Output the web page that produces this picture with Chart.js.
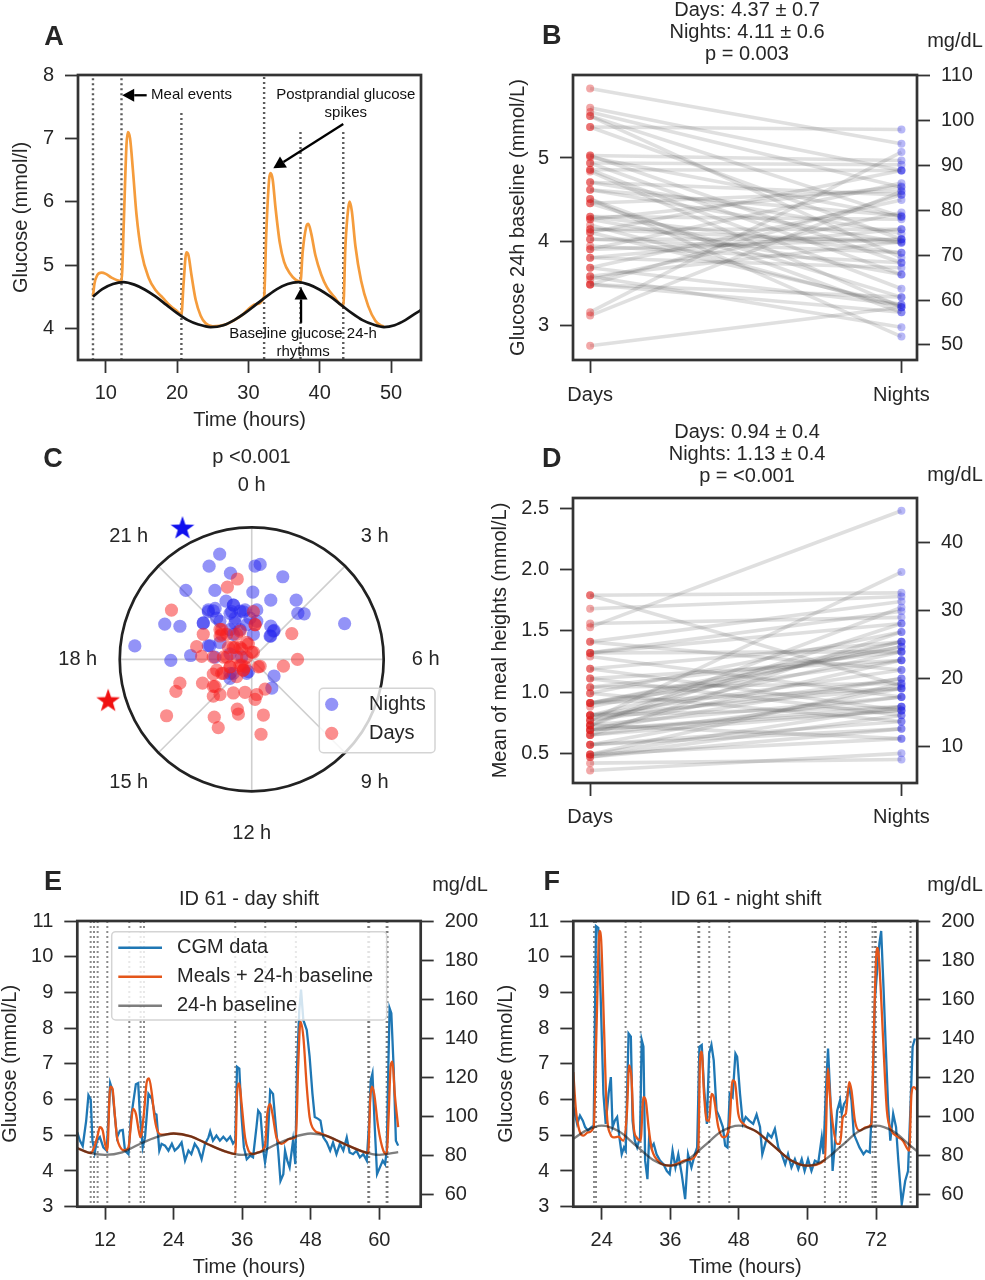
<!DOCTYPE html>
<html><head><meta charset="utf-8">
<script src="https://cdn.jsdelivr.net/npm/chart.js@4.4.1/dist/chart.umd.min.js"></script>
<style>html,body{margin:0;padding:0;background:#fff;}body{width:985px;height:1280px;position:relative;overflow:hidden;}canvas{position:absolute;}</style>
</head><body>
<script>
// ================= DATA =================
// ---- Panel A (schematic) ----
const ticksA_x = [10,20,30,40,50];
const ticksA_y = [4,5,6,7,8];
const mealTimesA = [8.2,12.2,20.6,32.2,37.3,43.3];
const mealTopsA  = [7.95,7.95,7.4,7.97,7.1,7.1];
const postprandialA = [[8.2,4.5],[8.4,4.7],[8.8,4.84],[9.4,4.88],[10.0,4.86],[10.8,4.8],[11.6,4.76],[12.2,4.75],[12.5,5.6],[12.9,6.9],[13.1,7.1],[13.4,7.0],[13.8,6.5],[14.3,5.8],[15.0,5.2],[16.0,4.8],[17.0,4.6],[18.0,4.48],[19.0,4.36],[20.0,4.27],[20.6,4.22],[20.9,4.7],[21.3,5.2],[21.6,5.15],[22.0,4.85],[22.6,4.45],[23.3,4.2],[24.0,4.08],[25.0,4.03],[27,4.07],[29,4.2],[31,4.38],[32.2,4.5],[32.5,5.5],[32.9,6.35],[33.1,6.45],[33.4,6.35],[33.8,5.9],[34.4,5.35],[35.0,5.05],[35.8,4.87],[36.6,4.77],[37.3,4.74],[37.6,5.2],[38.1,5.6],[38.4,5.65],[38.8,5.5],[39.4,5.15],[40.2,4.85],[41.0,4.65],[42.0,4.5],[43.3,4.35],[43.6,5.3],[44.0,5.9],[44.2,6.0],[44.5,5.85],[45.0,5.3],[45.8,4.75],[46.8,4.35],[47.8,4.12],[48.5,4.05],[49.0,4.03]];
const baselineA = [[8.2,4.5],[9.5,4.62],[11,4.7],[12.5,4.73],[14,4.69],[15.5,4.61],[17,4.5],[18.5,4.37],[20,4.24],[21.5,4.13],[23,4.06],[24.7,4.02],[26.5,4.05],[28,4.13],[29.5,4.24],[31,4.37],[32.5,4.5],[34,4.62],[35.5,4.7],[37,4.73],[38.5,4.69],[40,4.61],[41.5,4.5],[43,4.37],[44.5,4.24],[46,4.13],[47.5,4.06],[49,4.02],[50.5,4.05],[52,4.13],[53.5,4.24],[54.2,4.29]];

// ---- Panel B (24h baseline) ----
const groupLabels = ['Days','Nights'];
const baselineDays   = [5.83,5.60,5.55,5.50,5.37,5.37,5.03,5.01,4.94,4.86,4.84,4.71,4.62,4.51,4.46,4.30,4.27,4.15,4.11,4.03,3.91,3.81,3.69,3.59,3.55,3.49,3.16,3.12,2.76,5.50,4.94,4.86,5.03,4.71,4.62,4.46,4.30,4.15,4.03,3.91,3.81,3.69,3.59,3.49,3.49,4.51,4.11,3.95,4.20,4.27];
const baselineNights = [5.17,4.85,4.65,4.30,5.34,4.03,4.97,4.30,3.61,4.85,3.22,4.56,3.99,3.16,4.61,3.87,4.66,4.15,3.25,4.03,4.70,3.69,4.50,2.98,4.35,3.34,5.07,4.60,3.22,3.81,4.92,3.44,3.75,4.10,4.31,3.34,4.27,3.99,3.87,4.03,4.15,3.25,4.00,3.16,4.56,2.87,4.85,3.75,3.22,3.61];
const ticksB_left = [3,4,5];
const ticksB_right = [50,60,70,80,90,100,110];
const statsB = ['Days: 4.37 \u00b1 0.7','Nights: 4.11 \u00b1 0.6','p = 0.003'];

// ---- Panel C (acrophase / amplitude) ----
const nightsHour = [22.9,22.4,23.1,0.13,0.33,1.34,21.14,22.17,0.06,1.16,2.41,2.95,3.22,4.56,22.45,22.79,21.3,21.49,22.52,23.12,23.5,0.38,19.51,19.69,20.51,21.39,22.39,23.47,0.49,1.95,2.47,2.56,18.45,19.19,19.91,17.95,18.25,18.24,18.98,18.87,13.28,15.47,15.22,8.49,9.71,21.36,21.65,0.25,21.23,21.67,22.36,22.79,23.36,22.57,23.85,2.45,2.49,15.77,12.98,19.24,20.51,21.63,22.61];
const nightsAmp  = [0.855,0.794,0.69,0.727,0.742,0.685,0.733,0.605,0.524,0.483,0.571,0.501,0.533,0.757,0.493,0.445,0.506,0.476,0.402,0.387,0.388,0.387,0.714,0.602,0.464,0.382,0.311,0.274,0.299,0.296,0.282,0.232,0.892,0.346,0.274,0.613,0.464,0.279,0.17,0.078,0.115,0.177,0.221,0.213,0.27,0.417,0.285,0.195,0.496,0.484,0.394,0.444,0.376,0.345,0.321,0.274,0.229,0.197,0.099,0.333,0.463,0.239,0.249];
const daysHour = [23.34,22.79,20.15,0.13,0.36,20.94,20.71,19.87,21.05,22.54,18.89,20.26,21.11,23.2,3.77,18.23,18.23,18.35,0.85,8.67,6.83,6.0,16.57,16.3,16.19,14.73,16.75,16.44,16.24,15.61,15.03,14.75,13.87,12.75,11.47,11.69,10.42,15.72,14.15,13.05,12.89,11.23,13.7,11.54,14.47,16.7,21.04,20.48,21.98,22.93,19.86,20.43,21.12,18.31,18.59,19.67,16.7,15.93,16.84,16.21,14.69,14.47,0.0,0.36,15.53,9.27];
const daysAmp  = [0.635,0.592,0.719,0.372,0.272,0.335,0.3,0.416,0.272,0.237,0.429,0.168,0.129,0.122,0.364,0.38,0.292,0.191,0.057,0.083,0.246,0.347,0.313,0.252,0.1,0.077,0.575,0.626,0.416,0.359,0.408,0.364,0.296,0.261,0.276,0.312,0.252,0.78,0.532,0.402,0.437,0.442,0.589,0.587,0.105,0.175,0.325,0.301,0.225,0.137,0.2,0.157,0.111,0.215,0.115,0.042,0.174,0.088,0.278,0.24,0.176,0.105,0.056,0.271,0.348,0.077];
const meanHour = [22.2,16.93];   // nights, days
const meanAmp  = [1.156,1.132];
const clockHours = [0,3,6,9,12,15,18,21];
const statsC = 'p <0.001';

// ---- Panel D (meal heights) ----
const mealDays   = [1.79,1.79,1.68,1.53,1.56,1.41,1.32,1.29,1.19,1.11,0.99,0.91,0.81,0.77,0.73,0.69,0.65,0.57,0.49,0.47,0.42,0.36,1.32,1.11,1.04,0.99,0.91,0.91,0.81,0.77,0.73,0.73,0.69,0.65,0.57,0.49,0.47,1.19,1.41,0.88,0.81,0.69,0.73,0.77,0.65,0.91,1.04,0.69,0.81,0.49,1.32,0.57];
const mealNights = [1.05,1.81,1.78,2.48,1.61,1.74,1.33,0.96,1.41,1.26,1.49,1.37,1.18,1.98,1.56,1.11,0.85,1.03,0.88,0.70,0.45,0.50,1.66,0.81,1.07,0.76,1.03,1.41,0.88,1.33,0.96,0.62,1.26,1.49,0.76,1.07,0.81,0.85,1.18,1.37,1.03,0.88,1.69,1.11,0.96,1.26,1.33,0.85,1.41,0.62,1.56,0.70];
const ticksD_left = [0.5,1.0,1.5,2.0,2.5];
const ticksD_right = [10,20,30,40];
const statsD = ['Days: 0.94 \u00b1 0.4','Nights: 1.13 \u00b1 0.4','p = <0.001'];

// ---- Panels E/F (ID 61) ----
const ticksEF_y = [3,4,5,6,7,8,9,10,11];
const ticksEF_right = [60,80,100,120,140,160,180,200];
const ticksE_x = [12,24,36,48,60];
const ticksF_x = [24,36,48,60,72];
const seriesNames = ['CGM data','Meals + 24-h baseline','24-h baseline'];
const mealsE = [9.49,10.07,10.71,12.4,16.25,18.23,18.82,34.79,40.04,45.4,58.05,58.23,61.27,61.44];
const cgmE = [[7.15,5.08],[7.6,4.85],[8.1,4.7],[8.7,5.4],[9.1,6.12],[9.5,6.0],[9.8,4.85],[10.2,4.52],[10.6,4.85],[11.1,4.95],[11.7,4.66],[12.3,4.57],[12.9,6.46],[13.3,6.26],[13.8,5.41],[14.1,4.94],[14.6,5.13],[15.1,5.15],[15.5,4.57],[16.1,4.47],[16.5,5.41],[16.9,5.88],[17.4,6.43],[17.8,6.46],[18.1,5.6],[18.6,4.66],[19.0,4.94],[19.6,6.16],[20.2,6.02],[20.7,5.6],[21.0,5.58],[21.5,4.57],[21.9,4.76],[22.5,4.71],[23.1,4.57],[23.7,4.76],[24.2,4.57],[24.8,4.66],[25.4,4.8],[26.0,4.29],[26.6,4.57],[27.1,4.47],[27.7,4.76],[28.3,4.62],[28.9,4.33],[29.5,4.76],[30.1,4.94],[30.4,5.11],[30.9,4.85],[31.5,4.99],[32.1,4.85],[32.7,4.96],[33.3,4.85],[33.9,4.96],[34.4,4.77],[34.8,4.85],[35.1,6.92],[35.5,6.87],[35.9,5.51],[36.3,4.66],[36.8,4.33],[37.4,4.43],[37.9,4.38],[38.5,5.23],[38.8,5.69],[39.2,5.6],[39.7,4.57],[40.0,4.24],[40.4,4.66],[40.9,6.26],[41.4,6.16],[41.9,5.23],[42.3,4.57],[42.7,3.72],[43.2,3.91],[43.5,4.57],[43.9,4.29],[44.3,4.1],[44.9,4.85],[45.3,4.19],[45.6,6.92],[46.0,8.51],[46.3,9.08],[46.7,8.23],[47.3,7.95],[47.8,7.2],[48.3,6.16],[48.7,5.51],[49.3,5.46],[49.7,5.41],[50.2,4.94],[50.8,4.8],[51.4,4.57],[51.9,4.8],[52.5,4.47],[53.1,4.76],[53.7,4.57],[54.3,4.94],[54.8,4.52],[55.4,4.47],[56.0,4.57],[56.6,4.38],[57.2,4.47],[57.8,4.29],[58.2,5.32],[58.5,6.54],[58.8,6.73],[59.2,5.23],[59.6,3.91],[60.1,4.1],[60.6,4.29],[61.0,4.19],[61.3,4.57],[61.6,7.1],[61.8,8.56],[62.1,8.42],[62.5,6.92],[62.9,4.85],[63.3,4.71]];
const fitE = [[7.15,4.64],[8.5,4.55],[9.5,4.5],[10.2,4.71],[10.7,4.99],[11.1,5.23],[11.6,5.13],[12.0,4.76],[12.4,4.57],[12.9,6.36],[13.3,6.31],[13.7,5.6],[14.1,4.94],[14.7,4.66],[15.3,4.58],[16.1,4.66],[16.5,5.23],[16.9,5.74],[17.4,5.6],[17.9,5.13],[18.2,4.94],[18.8,5.6],[19.3,6.49],[19.7,6.59],[20.2,6.16],[20.7,5.46],[21.3,5.08],[21.9,5.02],[24,5.05],[27,4.97],[30,4.75],[33,4.55],[34.8,4.47],[35.1,6.16],[35.5,6.45],[35.9,5.88],[36.5,4.94],[37.1,4.57],[37.9,4.47],[38.8,4.52],[40.0,4.71],[40.4,5.6],[40.9,5.88],[41.3,5.6],[42.0,4.94],[42.9,4.76],[44.3,4.9],[45.4,4.94],[45.8,6.92],[46.2,8.18],[46.7,7.76],[47.3,6.36],[47.8,5.51],[48.7,5.13],[49.6,5.06],[51,4.97],[54,4.75],[57,4.55],[58.05,4.5],[58.4,5.98],[58.7,6.36],[59.1,6.16],[59.8,5.23],[60.7,4.57],[61.3,4.47],[61.6,5.41],[62.0,6.96],[62.3,7.06],[62.7,6.16],[63.3,5.23]];
const baseE = [[7.15,4.64],[9,4.52],[12,4.45],[15,4.52],[18,4.75],[21,4.95],[24,5.05],[27,4.97],[30,4.75],[33,4.55],[36,4.45],[39,4.52],[42,4.75],[45,4.95],[48,5.05],[51,4.97],[54,4.75],[57,4.55],[60,4.45],[63.3,4.53]];
const mealsF = [22.65,23.0,28.18,30.81,40.9,41.07,42.82,46.32,63.05,65.68,66.73,71.39,71.8,71.97,78.04];
const cgmF = [[19.03,5.79],[19.3,5.6],[19.7,5.32],[20.2,5.55],[20.7,5.41],[21.1,5.23],[21.6,5.13],[22.2,5.23],[22.6,5.27],[23.0,10.86],[23.4,10.81],[23.8,8.98],[24.3,6.16],[24.7,5.32],[25.2,6.16],[25.6,6.63],[25.9,5.23],[26.3,5.41],[26.7,5.51],[27.1,4.94],[27.5,4.47],[27.9,4.66],[28.2,4.57],[28.7,7.85],[29.1,7.76],[29.4,5.41],[29.8,4.85],[30.2,4.66],[30.7,4.94],[31.0,7.67],[31.3,7.48],[31.6,4.29],[32.0,3.77],[32.3,4.94],[32.7,4.66],[33.1,4.76],[33.6,4.47],[34.2,4.29],[34.8,4.19],[35.4,4.0],[35.9,3.91],[36.4,4.57],[36.9,4.1],[37.4,4.47],[38.0,3.91],[38.6,3.21],[39.1,4.47],[39.7,4.1],[40.3,4.47],[40.7,4.66],[41.1,7.48],[41.5,7.53],[41.9,6.35],[42.4,5.32],[42.8,7.29],[43.2,7.53],[43.6,7.1],[44.1,5.69],[44.6,5.51],[45.2,5.23],[45.6,4.71],[46.0,4.66],[46.4,6.16],[46.9,6.07],[47.4,7.29],[47.7,7.2],[48.2,6.16],[48.7,5.32],[49.2,5.51],[49.8,5.41],[50.5,5.32],[51.1,5.58],[51.7,5.23],[52.1,4.47],[52.6,4.76],[53.1,5.04],[53.7,4.94],[54.3,5.18],[54.9,4.66],[55.5,4.47],[56.1,4.19],[56.6,4.47],[57.2,4.1],[57.8,4.33],[58.4,4.05],[59.0,4.33],[59.5,4.0],[60.1,4.33],[60.7,4.0],[61.3,4.29],[61.9,4.24],[62.5,4.94],[62.8,4.47],[63.2,6.16],[63.6,7.43],[64.0,6.07],[64.4,4.0],[64.7,4.57],[65.2,5.69],[65.7,5.98],[66.0,5.6],[66.4,5.88],[66.8,5.98],[67.3,6.35],[67.7,5.98],[68.1,5.04],[68.6,4.85],[69.1,4.66],[69.8,4.47],[70.3,4.57],[70.9,4.52],[71.4,6.16],[71.8,8.79],[72.2,9.64],[72.6,10.39],[72.9,10.72],[73.3,9.17],[73.7,7.48],[74.1,5.88],[74.5,4.85],[75.0,5.6],[75.5,5.23],[75.9,4.29],[76.5,3.07],[77.1,3.72],[77.6,4.0],[78.0,5.69],[78.4,7.48],[78.8,7.71]];
const fitF = [[19.03,6.77],[19.5,5.69],[20.1,5.13],[20.8,4.99],[21.6,5.08],[22.6,5.23],[23.1,8.04],[23.6,10.72],[23.9,10.48],[24.4,8.04],[24.9,5.6],[25.5,5.04],[26.1,4.94],[26.9,4.96],[27.8,4.85],[28.4,5.6],[28.8,6.96],[29.2,6.63],[29.6,5.23],[30.1,4.94],[30.8,4.85],[31.3,6.07],[31.7,5.98],[32.2,5.23],[32.7,4.66],[33.6,4.33],[36,4.15],[39,4.31],[40.9,4.6],[41.2,7.1],[41.5,7.34],[41.9,6.16],[42.4,5.41],[42.8,5.41],[43.2,6.16],[43.6,6.07],[44.4,5.23],[45.3,4.94],[46.3,5.23],[46.9,6.54],[47.3,6.49],[47.9,5.6],[48.8,5.32],[51,5.11],[54,4.71],[57,4.31],[60,4.15],[63.05,4.31],[63.6,6.87],[63.9,6.16],[64.5,5.23],[65.2,4.76],[65.7,4.76],[66.2,5.51],[66.7,5.6],[67.3,6.49],[67.7,6.26],[68.3,5.41],[69.1,5.13],[70.3,5.23],[71.2,5.32],[71.5,7.1],[72.0,9.92],[72.3,10.25],[72.7,9.45],[73.3,7.48],[73.9,5.69],[74.7,5.13],[75.5,4.99],[76.7,4.85],[77.8,4.57],[78.2,6.16],[78.6,6.35],[79.2,6.26]];
const baseF = [[19.03,4.9],[21,5.11],[24,5.27],[27,5.11],[30,4.71],[33,4.31],[36,4.15],[39,4.31],[42,4.71],[45,5.11],[48,5.27],[51,5.11],[54,4.71],[57,4.31],[60,4.15],[63,4.31],[66,4.71],[69,5.11],[72,5.27],[75,5.11],[78,4.71],[79.2,4.55]];

// ================= STYLE / HELPERS =================
const FONT = "'Liberation Sans', Arial, Helvetica, sans-serif";
const TXT = '#262626';
Chart.defaults.font.family = FONT;
Chart.defaults.color = TXT;
Chart.defaults.animation = false;
Chart.defaults.plugins.legend.display = false;
Chart.defaults.plugins.tooltip.enabled = false;

const P = arr => arr.map(([x, y]) => ({x, y}));

function makeCanvas(left, top, w, h) {
  const c = document.createElement('canvas');
  c.width = w; c.height = h;
  c.style.left = left + 'px'; c.style.top = top + 'px';
  c.style.width = w + 'px'; c.style.height = h + 'px';
  document.body.appendChild(c);
  return c;
}

function axis(o) {
  const horiz = o.pos === 'bottom';
  return {
    type: 'linear', position: o.pos, min: o.min, max: o.max,
    afterBuildTicks: s => { s.ticks = o.ticks.map(v => ({value: v})); },
    afterFit: s => { if (horiz) s.height = o.size; else s.width = o.size; },
    grid: {drawOnChartArea: false, drawTicks: true, tickLength: 13, tickWidth: 1.8, tickColor: '#333', color: '#333'},
    border: {display: false},
    ticks: {font: {size: 20}, color: TXT, padding: o.lpad, autoSkip: false, maxRotation: 0,
            callback: o.fmt || (v => String(v))},
    title: o.title ? {display: true, text: o.title, color: TXT, font: {size: 20, lineHeight: 1},
            padding: horiz ? {top: 0, bottom: o.tpad} : {top: o.tpad, bottom: 0}} : {display: false}
  };
}

const framePlugin = {id: 'frame', afterDatasetsDraw(chart) {
  const {ctx, chartArea: a} = chart;
  ctx.save(); ctx.lineWidth = 2.7; ctx.strokeStyle = '#333';
  ctx.strokeRect(a.left, a.top, a.right - a.left, a.bottom - a.top);
  ctx.restore();
}};

function textPlugin(items) {
  return {id: 'texts', afterDraw(chart) {
    const ctx = chart.ctx;
    items.forEach(it => {
      ctx.save();
      ctx.font = (it.bold ? 'bold ' : '') + it.size + 'px ' + FONT;
      ctx.fillStyle = it.color || TXT; ctx.textAlign = it.align || 'center'; ctx.textBaseline = 'middle';
      ctx.fillText(it.t, it.x, it.y);
      ctx.restore();
    });
  }};
}

function arrow(ctx, x1, y1, x2, y2) {
  const ang = Math.atan2(y2 - y1, x2 - x1), L = 12, W = 6.5;
  const bx = x2 - L * Math.cos(ang), by = y2 - L * Math.sin(ang);
  ctx.strokeStyle = '#000'; ctx.lineWidth = 2.3;
  ctx.beginPath(); ctx.moveTo(x1, y1); ctx.lineTo(bx, by); ctx.stroke();
  ctx.fillStyle = '#000'; ctx.beginPath(); ctx.moveTo(x2, y2);
  ctx.lineTo(bx - W * Math.sin(ang), by + W * Math.cos(ang));
  ctx.lineTo(bx + W * Math.sin(ang), by - W * Math.cos(ang));
  ctx.closePath(); ctx.fill();
}

function mealLines(times, tops, bottom, color, width) {
  return times.map((t, i) => ({data: [{x: t, y: tops[i]}, {x: t, y: bottom}], borderColor: color,
    borderWidth: width, borderDash: [2, 3], pointRadius: 0, order: 5}));
}

// ================= PANEL A =================
const notesA = [
  {text: 'Meal events', x: 16.35, y: 7.68, align: 'left'},
  {text: 'Postprandial glucose', x: 43.66, y: 7.68, align: 'center'},
  {text: 'spikes', x: 43.66, y: 7.40, align: 'center'},
  {text: 'Baseline glucose 24-h', x: 37.66, y: 3.92, align: 'center'},
  {text: 'rhythms', x: 37.66, y: 3.63, align: 'center'}
];
const arrowsA = [[15.73, 7.68, 12.3, 7.68], [43.3, 7.226, 33.49, 6.526], [37.38, 4.087, 37.38, 4.646]];
const annotA = {id: 'annotA', afterDraw(chart) {
  const {ctx, scales: {x, y}} = chart;
  const X = v => x.getPixelForValue(v), Y = v => y.getPixelForValue(v);
  ctx.save(); ctx.font = '15px ' + FONT; ctx.fillStyle = '#111'; ctx.textBaseline = 'middle';
  notesA.forEach(n => { ctx.textAlign = n.align; ctx.fillText(n.text, X(n.x), Y(n.y)); });
  arrowsA.forEach(a => arrow(ctx, X(a[0]), Y(a[1]), X(a[2]), Y(a[3])));
  ctx.restore();
}};
new Chart(makeCanvas(0, 0, 490, 430), {
  type: 'line',
  data: {datasets: [
    ...mealLines(mealTimesA, mealTopsA, 3.5, '#5c5c5c', 2.4),
    {data: P(postprandialA), borderColor: '#f59c3c', borderWidth: 2.7, pointRadius: 0, cubicInterpolationMode: 'monotone', order: 2},
    {data: P(baselineA), borderColor: '#141414', borderWidth: 2.7, pointRadius: 0, cubicInterpolationMode: 'monotone', order: 1}
  ]},
  options: {responsive: false, layout: {padding: {left: 0, top: 75, right: 69, bottom: 0}},
    scales: {
      x: axis({pos: 'bottom', min: 6.1, max: 54.2, ticks: ticksA_x, size: 70, lpad: 8, title: 'Time (hours)', tpad: 0}),
      y: axis({pos: 'left', min: 3.5, max: 8, ticks: ticksA_y, size: 78, lpad: 11, title: 'Glucose (mmol/l)', tpad: 11.7})
    }},
  plugins: [framePlugin, annotA, textPlugin([{t: 'A', x: 54, y: 38, size: 27, bold: true}])]
});

// ================= PANEL B / D (paired) =================
const RED = 'rgba(222,25,25,0.38)', BLUE = 'rgba(35,35,230,0.32)';
function pairedDatasets(dv, nv, alpha) {
  return dv.map((d, i) => ({data: [{x: 0, y: d}, {x: 1, y: nv[i]}], borderColor: 'rgba(85,85,85,' + alpha + ')',
    borderWidth: 3.6, pointRadius: 4, pointBorderWidth: 0, pointBorderColor: 'rgba(0,0,0,0)',
    pointBackgroundColor: [RED, BLUE]}));
}
const catFmt = v => (v === 0 ? groupLabels[0] : v === 1 ? groupLabels[1] : '');
new Chart(makeCanvas(490, 0, 495, 430), {
  type: 'line',
  data: {datasets: pairedDatasets(baselineDays, baselineNights, 0.18)},
  options: {responsive: false, layout: {padding: {left: 0, top: 75, right: 0, bottom: 0}},
    scales: {
      x: axis({pos: 'bottom', min: -0.055, max: 1.05, ticks: [0, 1], size: 70, lpad: 10, fmt: catFmt}),
      y: axis({pos: 'left', min: 2.59, max: 5.99, ticks: ticksB_left, size: 83, lpad: 11, title: 'Glucose 24h baseline (mmol/L)', tpad: 18.3}),
      y1: axis({pos: 'right', min: 46.65, max: 110.2, ticks: ticksB_right, size: 68, lpad: 11})
    }},
  plugins: [framePlugin, textPlugin([
    {t: 'B', x: 61.7, y: 37, size: 27, bold: true},
    {t: statsB[0], x: 257, y: 10, size: 20}, {t: statsB[1], x: 257, y: 32, size: 20}, {t: statsB[2], x: 257, y: 54, size: 20},
    {t: 'mg/dL', x: 465, y: 41, size: 20}])]
});

new Chart(makeCanvas(490, 420, 495, 440), {
  type: 'line',
  data: {datasets: pairedDatasets(mealDays, mealNights, 0.19)},
  options: {responsive: false, layout: {padding: {left: 0, top: 78, right: 0, bottom: 0}},
    scales: {
      x: axis({pos: 'bottom', min: -0.055, max: 1.05, ticks: [0, 1], size: 77, lpad: 9, fmt: catFmt}),
      y: axis({pos: 'left', min: 0.258, max: 2.584, ticks: ticksD_left, size: 83, lpad: 11, fmt: v => v.toFixed(1), title: 'Mean of meal heights (mmol/L)', tpad: 0.3}),
      y1: axis({pos: 'right', min: 4.67, max: 46.5, ticks: ticksD_right, size: 68, lpad: 11})
    }},
  plugins: [framePlugin, textPlugin([
    {t: 'D', x: 61.7, y: 40, size: 27, bold: true},
    {t: statsD[0], x: 257, y: 12, size: 20}, {t: statsD[1], x: 257, y: 34, size: 20}, {t: statsD[2], x: 257, y: 56, size: 20},
    {t: 'mg/dL', x: 465, y: 55, size: 20}])]
});

// ================= PANEL C (polar) =================
const toXY = (hours, amps) => hours.map((h, i) => ({x: amps[i] * Math.sin(h * Math.PI / 12), y: amps[i] * Math.cos(h * Math.PI / 12)}));
function starImg(color) {
  const s = 28, c = document.createElement('canvas'); c.width = c.height = s;
  const g = c.getContext('2d'); g.fillStyle = color; g.beginPath();
  for (let i = 0; i < 10; i++) {
    const r = i % 2 ? 5 : 12.5, a = -Math.PI / 2 + i * Math.PI / 5;
    g.lineTo(s / 2 + r * Math.cos(a), s / 2 + 1.5 + r * Math.sin(a));
  }
  g.closePath(); g.fill(); return c;
}
const NBLUE = 'rgba(40,40,240,0.5)', DRED = 'rgba(248,30,30,0.5)';
const polarPlugin = {id: 'polar',
  beforeDatasetsDraw(chart) {
    const {ctx, scales: {x, y}} = chart;
    const cx = x.getPixelForValue(0), cy = y.getPixelForValue(0), R = x.getPixelForValue(1) - cx;
    ctx.save();
    ctx.strokeStyle = '#cfcfcf'; ctx.lineWidth = 1.6;
    clockHours.forEach(h => { const a = h * Math.PI / 12; ctx.beginPath(); ctx.moveTo(cx, cy); ctx.lineTo(cx + R * Math.sin(a), cy - R * Math.cos(a)); ctx.stroke(); });
    ctx.strokeStyle = '#222'; ctx.lineWidth = 2.7; ctx.beginPath(); ctx.arc(cx, cy, R, 0, Math.PI * 2); ctx.stroke();
    ctx.fillStyle = TXT; ctx.font = '20px ' + FONT; ctx.textAlign = 'center'; ctx.textBaseline = 'middle';
    clockHours.forEach(h => { const a = h * Math.PI / 12, rr = R * 1.318; ctx.fillText(h + ' h', cx + rr * Math.sin(a), cy - rr * Math.cos(a)); });
    ctx.restore();
  },
  afterDraw(chart) {
    const ctx = chart.ctx;
    ctx.save();
    ctx.fillStyle = 'rgba(255,255,255,0.8)'; ctx.strokeStyle = '#d4d4d4'; ctx.lineWidth = 1.5;
    ctx.beginPath(); ctx.roundRect(319.3, 258.3, 115.7, 64.4, 4); ctx.fill(); ctx.stroke();
    [[NBLUE, 'Nights', 274.3], [DRED, 'Days', 303.3]].forEach(([c, t, yy]) => {
      ctx.fillStyle = c; ctx.beginPath(); ctx.arc(331.7, yy, 6.6, 0, Math.PI * 2); ctx.fill();
      ctx.fillStyle = TXT; ctx.font = '20px ' + FONT; ctx.textAlign = 'left'; ctx.textBaseline = 'middle'; ctx.fillText(t, 369, yy);
    });
    ctx.restore();
  }};
new Chart(makeCanvas(0, 430, 490, 430), {
  type: 'scatter',
  data: {datasets: [
    {data: toXY([meanHour[0]], [meanAmp[0]]), pointStyle: starImg('#1010ee'), pointRadius: 12, order: 0},
    {data: toXY([meanHour[1]], [meanAmp[1]]), pointStyle: starImg('#f01010'), pointRadius: 12, order: 0},
    {data: toXY(daysHour, daysAmp), backgroundColor: DRED, borderWidth: 0, pointRadius: 6.6, order: 1},
    {data: toXY(nightsHour, nightsAmp), backgroundColor: NBLUE, borderWidth: 0, pointRadius: 6.6, order: 2}
  ]},
  options: {responsive: false, layout: {padding: {left: 30, top: 10, right: 20, bottom: 5}},
    scales: {x: {type: 'linear', display: false, min: -1.68, max: 1.654}, y: {type: 'linear', display: false, min: -1.46, max: 1.684}}},
  plugins: [polarPlugin, textPlugin([{t: 'C', x: 53, y: 30, size: 27, bold: true}, {t: statsC, x: 251.5, y: 27, size: 20}])]
});

// ================= PANELS E / F =================
const CGM_C = '#1f77b4', FIT_C = '#e4561a', BASE_C = 'rgba(20,20,20,0.55)';
function legendPlugin(box) {
  return {id: 'lg', afterDraw(chart) {
    const ctx = chart.ctx;
    ctx.save();
    ctx.fillStyle = 'rgba(255,255,255,0.8)'; ctx.strokeStyle = '#d4d4d4'; ctx.lineWidth = 1.5;
    ctx.beginPath(); ctx.roundRect(box.x, box.y, box.w, box.h, 4); ctx.fill(); ctx.stroke();
    [CGM_C, FIT_C, BASE_C].forEach((c, i) => {
      const yy = box.y + 16 + i * 29;
      ctx.strokeStyle = c; ctx.lineWidth = 2.4; ctx.beginPath(); ctx.moveTo(box.x + 6.6, yy); ctx.lineTo(box.x + 50.3, yy); ctx.stroke();
      ctx.fillStyle = TXT; ctx.font = '20px ' + FONT; ctx.textAlign = 'left'; ctx.textBaseline = 'middle';
      ctx.fillText(seriesNames[i], box.x + 65.3, yy);
    });
    ctx.restore();
  }};
}
function glucoseChart(left, cfg) {
  return new Chart(makeCanvas(left, 860, cfg.w, 420), {
    type: 'line',
    data: {datasets: [
      ...mealLines(cfg.meals, cfg.meals.map(() => 11), 3, 'rgba(100,100,100,0.75)', 2),
      {data: P(cfg.cgm), borderColor: CGM_C, borderWidth: 2.3, pointRadius: 0, tension: 0, order: 3},
      {data: P(cfg.fit), borderColor: FIT_C, borderWidth: 2.3, pointRadius: 0, cubicInterpolationMode: 'monotone', order: 2},
      {data: P(cfg.base), borderColor: BASE_C, borderWidth: 2.3, pointRadius: 0, cubicInterpolationMode: 'monotone', order: 1}
    ]},
    options: {responsive: false, layout: {padding: {left: 0, top: 61, right: 0, bottom: 0}},
      scales: {
        x: axis({pos: 'bottom', min: cfg.xmin, max: cfg.xmax, ticks: cfg.xt, size: 73.3, lpad: 8.6, title: 'Time (hours)', tpad: 2.7}),
        y: axis({pos: 'left', min: 3, max: 11, ticks: ticksEF_y, size: cfg.ly, lpad: 11, title: 'Glucose (mmol/L)', tpad: cfg.tp}),
        y1: axis({pos: 'right', min: 53.6, max: 200.4, ticks: ticksEF_right, size: cfg.ry, lpad: 11})
      }},
    plugins: cfg.plugins
  });
}
glucoseChart(0, {w: 490, meals: mealsE, cgm: cgmE, fit: fitE, base: baseE, xmin: 7.15, xmax: 67.24, xt: ticksE_x, ly: 77.3, ry: 69.3, tp: 0,
  plugins: [framePlugin, legendPlugin({x: 111.7, y: 71.7, w: 275, h: 88.3}), textPlugin([
    {t: 'E', x: 53, y: 23, size: 27, bold: true}, {t: 'ID 61 - day shift', x: 249, y: 39, size: 20}, {t: 'mg/dL', x: 460, y: 25.7, size: 20}])]});
glucoseChart(490, {w: 495, meals: mealsF, cgm: cgmF, fit: fitF, base: baseF, xmin: 19.03, xmax: 79.22, xt: ticksF_x, ly: 83.3, ry: 67.7, tp: 6.7,
  plugins: [framePlugin, textPlugin([
    {t: 'F', x: 61.7, y: 23, size: 27, bold: true}, {t: 'ID 61 - night shift', x: 256, y: 39, size: 20}, {t: 'mg/dL', x: 465, y: 25.7, size: 20}])]});
</script>
</body></html>
